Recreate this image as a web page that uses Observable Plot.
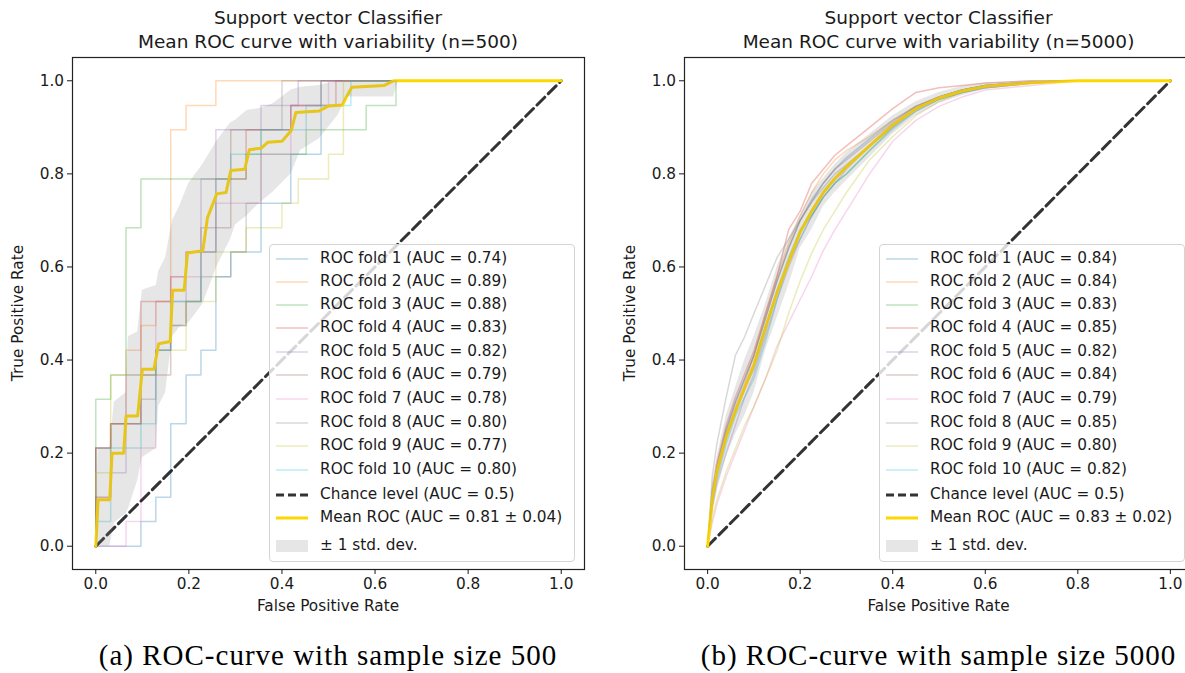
<!DOCTYPE html>
<html><head><meta charset="utf-8">
<script src="https://cdn.jsdelivr.net/npm/d3@7"></script>
<script src="https://cdn.jsdelivr.net/npm/@observablehq/plot@0.6"></script>
<style>
html,body{margin:0;padding:0;background:#fff;}
#root{position:relative;width:1185px;height:673px;overflow:hidden;background:#fff;font-family:"DejaVu Sans",sans-serif;color:#1a1a1a;}
#root > svg{position:absolute;top:0;}
.t{position:absolute;white-space:nowrap;transform:translate(-50%,-50%);line-height:1;}
.legend{position:absolute;border:1px solid #d4d4d4;border-radius:4px;background:rgba(255,255,255,0.8);box-sizing:border-box;}
.row{position:absolute;left:0;white-space:nowrap;font-size:15.3px;line-height:1;transform:translateY(-50%);display:flex;align-items:center;}
#root .row svg{position:static;display:block;}
.cap{font-family:"Liberation Serif",serif;font-size:29px;letter-spacing:1px;color:#000;}
</style></head><body><div id="root"></div><script>
// ---------- shared ----------
const foldNames = ["ROC fold 1","ROC fold 2","ROC fold 3","ROC fold 4","ROC fold 5","ROC fold 6","ROC fold 7","ROC fold 8","ROC fold 9","ROC fold 10"];
const tickValues = [0, 0.2, 0.4, 0.6, 0.8, 1.0];
const chanceFpr = [0, 1];
const chanceTpr = [0, 1];

// ---------- panel (a) n=500 : step ROC curves (fpr where step occurs, new tpr) ----------
const titleA = ["Support vector Classifier", "Mean ROC curve with variability (n=500)"];
const captionA = "(a) ROC-curve with sample size 500";
const aucA = [0.74, 0.89, 0.88, 0.83, 0.82, 0.79, 0.78, 0.80, 0.77, 0.80];
const meanAucA = "0.81 \u00b1 0.04";
const foldA1_fpr = [0, 0.097, 0.129, 0.161, 0.194, 0.226, 0.258, 0.290, 0.355, 0.419, 0.484, 1];
const foldA1_tpr = [0, 0.053, 0.105, 0.263, 0.368, 0.421, 0.579, 0.632, 0.737, 0.842, 1, 1];
const foldA2_fpr = [0, 0, 0.032, 0.065, 0.097, 0.129, 0.161, 0.194, 0.258, 1];
const foldA2_tpr = [0, 0.105, 0.263, 0.421, 0.474, 0.526, 0.895, 0.947, 1, 1];
const foldA3_fpr = [0, 0, 0.032, 0.065, 0.097, 0.323, 0.452, 0.581, 0.645, 1];
const foldA3_tpr = [0, 0.316, 0.368, 0.684, 0.789, 0.842, 0.895, 0.947, 1, 1];
const foldA4_fpr = [0, 0, 0.032, 0.097, 0.161, 0.194, 0.258, 0.323, 0.419, 0.516, 1];
const foldA4_tpr = [0, 0.211, 0.263, 0.526, 0.579, 0.632, 0.789, 0.895, 0.947, 1, 1];
const foldA5_fpr = [0, 0, 0.032, 0.065, 0.129, 0.161, 0.194, 0.226, 0.258, 0.355, 0.435, 1];
const foldA5_tpr = [0, 0.105, 0.158, 0.368, 0.421, 0.526, 0.632, 0.789, 0.895, 0.947, 1, 1];
const foldA6_fpr = [0, 0, 0.032, 0.097, 0.161, 0.194, 0.226, 0.290, 0.419, 0.484, 1];
const foldA6_tpr = [0, 0.211, 0.263, 0.368, 0.474, 0.526, 0.684, 0.895, 0.947, 1, 1];
const foldA7_fpr = [0, 0.065, 0.097, 0.129, 0.161, 0.226, 0.258, 0.355, 0.419, 0.5, 1];
const foldA7_tpr = [0, 0.053, 0.211, 0.526, 0.579, 0.632, 0.737, 0.842, 0.947, 1, 1];
const foldA8_fpr = [0, 0, 0.032, 0.097, 0.129, 0.161, 0.194, 0.226, 0.290, 0.323, 0.355, 0.40, 1];
const foldA8_tpr = [0, 0.211, 0.263, 0.316, 0.421, 0.474, 0.526, 0.579, 0.632, 0.737, 0.895, 1, 1];
const foldA9_fpr = [0, 0, 0.032, 0.129, 0.194, 0.258, 0.323, 0.40, 0.435, 0.5, 0.532, 1];
const foldA9_tpr = [0, 0.158, 0.368, 0.421, 0.526, 0.632, 0.684, 0.737, 0.789, 0.842, 1, 1];
const foldA10_fpr = [0, 0, 0.032, 0.097, 0.129, 0.161, 0.226, 0.258, 0.290, 0.355, 0.452, 0.548, 1];
const foldA10_tpr = [0, 0.053, 0.211, 0.263, 0.421, 0.526, 0.632, 0.789, 0.842, 0.895, 0.947, 1, 1];
const meanA_fpr = [0, 0.005, 0.03, 0.035, 0.06, 0.065, 0.09, 0.1, 0.125, 0.135, 0.16, 0.165, 0.19, 0.197, 0.23, 0.24, 0.26, 0.28, 0.29, 0.32, 0.33, 0.355, 0.37, 0.40, 0.42, 0.43, 0.48, 0.50, 0.53, 0.54, 0.55, 0.62, 0.64, 1];
const meanA_tpr = [0, 0.1, 0.1, 0.2, 0.2, 0.28, 0.28, 0.38, 0.38, 0.435, 0.44, 0.55, 0.55, 0.63, 0.635, 0.706, 0.757, 0.76, 0.807, 0.81, 0.852, 0.855, 0.868, 0.87, 0.893, 0.932, 0.935, 0.946, 0.948, 0.968, 0.986, 0.99, 1, 1];
const bandA_fpr = [0, 0.005, 0.03, 0.04, 0.065, 0.07, 0.09, 0.1, 0.13, 0.135, 0.15, 0.165, 0.18, 0.2, 0.23, 0.26, 0.29, 0.3, 0.325, 0.35, 0.38, 0.42, 0.44, 0.48, 0.52, 0.54, 0.64, 0.65, 1];
const bandA_hi = [0, 0.21, 0.21, 0.31, 0.33, 0.45, 0.46, 0.55, 0.56, 0.59, 0.62, 0.70, 0.73, 0.78, 0.82, 0.87, 0.91, 0.915, 0.936, 0.94, 0.95, 0.98, 0.986, 0.99, 1, 1, 1, 1, 1];
const bandA_lo = [0, 0, 0, 0.05, 0.07, 0.08, 0.14, 0.19, 0.21, 0.30, 0.33, 0.45, 0.47, 0.48, 0.52, 0.60, 0.66, 0.69, 0.71, 0.735, 0.76, 0.80, 0.85, 0.875, 0.925, 0.965, 0.965, 1, 1];

// ---------- panel (b) n=5000 : tpr read at a shared fpr grid ----------
const titleB = ["Support vector Classifier", "Mean ROC curve with variability (n=5000)"];
const captionB = "(b) ROC-curve with sample size 5000";
const aucB = [0.84, 0.84, 0.83, 0.85, 0.82, 0.84, 0.79, 0.85, 0.80, 0.82];
const meanAucB = "0.83 \u00b1 0.02";
const fprGridB = [0, 0.01, 0.02, 0.04, 0.06, 0.08, 0.1, 0.125, 0.15, 0.175, 0.2, 0.225, 0.25, 0.275, 0.3, 0.35, 0.4, 0.45, 0.5, 0.55, 0.6, 0.7, 0.8, 1];
const foldB1_tpr = [0, 0.11, 0.17, 0.25, 0.31, 0.36, 0.41, 0.49, 0.57, 0.64, 0.70, 0.745, 0.78, 0.81, 0.835, 0.875, 0.915, 0.945, 0.965, 0.98, 0.99, 0.997, 1, 1];
const foldB2_tpr = [0, 0.09, 0.15, 0.24, 0.30, 0.35, 0.41, 0.50, 0.58, 0.65, 0.71, 0.76, 0.80, 0.83, 0.85, 0.88, 0.915, 0.945, 0.965, 0.98, 0.99, 0.997, 1, 1];
const foldB3_tpr = [0, 0.10, 0.16, 0.24, 0.29, 0.34, 0.38, 0.46, 0.55, 0.62, 0.68, 0.71, 0.75, 0.78, 0.80, 0.85, 0.90, 0.94, 0.965, 0.98, 0.99, 0.996, 1, 1];
const foldB4_tpr = [0, 0.12, 0.18, 0.26, 0.32, 0.37, 0.42, 0.50, 0.58, 0.68, 0.72, 0.78, 0.81, 0.84, 0.86, 0.90, 0.94, 0.975, 0.985, 0.99, 0.995, 1, 1, 1];
const foldB5_tpr = [0, 0.08, 0.13, 0.20, 0.26, 0.32, 0.37, 0.45, 0.53, 0.60, 0.66, 0.71, 0.75, 0.78, 0.81, 0.86, 0.90, 0.935, 0.96, 0.975, 0.985, 0.995, 1, 1];
const foldB6_tpr = [0, 0.10, 0.17, 0.25, 0.31, 0.36, 0.41, 0.49, 0.57, 0.64, 0.70, 0.74, 0.78, 0.81, 0.83, 0.87, 0.91, 0.945, 0.965, 0.98, 0.99, 0.997, 1, 1];
const foldB7_tpr = [0, 0.05, 0.09, 0.15, 0.20, 0.25, 0.30, 0.36, 0.43, 0.48, 0.53, 0.58, 0.635, 0.68, 0.72, 0.80, 0.87, 0.915, 0.945, 0.965, 0.98, 0.99, 1, 1];
const foldB8_tpr = [0, 0.15, 0.22, 0.32, 0.41, 0.45, 0.50, 0.56, 0.62, 0.66, 0.70, 0.74, 0.77, 0.80, 0.82, 0.86, 0.905, 0.94, 0.96, 0.975, 0.985, 0.995, 1, 1];
const foldB9_tpr = [0, 0.06, 0.10, 0.16, 0.21, 0.26, 0.30, 0.36, 0.42, 0.50, 0.57, 0.63, 0.68, 0.72, 0.76, 0.83, 0.88, 0.925, 0.955, 0.975, 0.99, 0.998, 1, 1];
const foldB10_tpr = [0, 0.09, 0.14, 0.22, 0.28, 0.32, 0.36, 0.44, 0.53, 0.61, 0.66, 0.71, 0.75, 0.78, 0.80, 0.85, 0.895, 0.935, 0.96, 0.975, 0.985, 0.995, 1, 1];
const meanB_tpr = [0, 0.10, 0.16, 0.235, 0.29, 0.34, 0.39, 0.47, 0.545, 0.61, 0.675, 0.72, 0.76, 0.79, 0.815, 0.86, 0.905, 0.94, 0.963, 0.978, 0.988, 0.996, 1, 1];
const bandB_hi = [0, 0.13, 0.19, 0.28, 0.34, 0.40, 0.45, 0.52, 0.60, 0.66, 0.71, 0.76, 0.79, 0.82, 0.845, 0.885, 0.925, 0.955, 0.975, 0.988, 0.995, 1, 1, 1];
const bandB_lo = [0, 0.07, 0.13, 0.19, 0.24, 0.28, 0.33, 0.42, 0.49, 0.56, 0.64, 0.68, 0.73, 0.76, 0.785, 0.835, 0.885, 0.925, 0.951, 0.968, 0.981, 0.992, 1, 1];

// ---------- styles ----------
const palette = ["#1f77b4","#ff7f0e","#2ca02c","#d62728","#9467bd","#8c564b","#e377c2","#7f7f7f","#bcbd22","#17becf"];
const meanColor = "#ffd700";
const FS = 15.3;

const foldsA = [
  [foldA1_fpr, foldA1_tpr],[foldA2_fpr, foldA2_tpr],[foldA3_fpr, foldA3_tpr],[foldA4_fpr, foldA4_tpr],[foldA5_fpr, foldA5_tpr],
  [foldA6_fpr, foldA6_tpr],[foldA7_fpr, foldA7_tpr],[foldA8_fpr, foldA8_tpr],[foldA9_fpr, foldA9_tpr],[foldA10_fpr, foldA10_tpr]];
const foldsB = [foldB1_tpr,foldB2_tpr,foldB3_tpr,foldB4_tpr,foldB5_tpr,foldB6_tpr,foldB7_tpr,foldB8_tpr,foldB9_tpr,foldB10_tpr]
  .map(t => [fprGridB, t]);

const zip = (xs, ys) => xs.map((x, i) => ({x, y: ys[i]}));

function panel(o) {
  const marks = [];
  o.folds.forEach(([xs, ys], i) => {
    marks.push(Plot.line(zip(xs, ys), {x: "x", y: "y", stroke: palette[i], strokeOpacity: 0.3, strokeWidth: 1.5, curve: o.foldCurve}));
  });
  marks.push(Plot.line(zip(chanceFpr, chanceTpr), {x: "x", y: "y", stroke: "#000", strokeOpacity: 0.8, strokeWidth: 3, strokeDasharray: "11,5"}));
  marks.push(Plot.line(zip(o.meanX, o.meanY), {x: "x", y: "y", stroke: meanColor, strokeOpacity: 1, strokeWidth: 3}));
  marks.push(Plot.areaY(o.bandX.map((x, i) => ({x, lo: o.lo[i], hi: o.hi[i]})), {x: "x", y1: "lo", y2: "hi", fill: "#808080", fillOpacity: 0.2}));
  marks.push(Plot.frame({stroke: "#222", strokeWidth: 1.2}));
  marks.push(Plot.axisX({ticks: tickValues, tickFormat: d => d.toFixed(1), tickSize: 5, tickPadding: 3.5, label: null, fontSize: FS}));
  marks.push(Plot.axisY({ticks: tickValues, tickFormat: d => d.toFixed(1), tickSize: 5, tickPadding: 3.5, label: null, fontSize: FS}));
  const svg = Plot.plot({
    width: 600, height: 620,
    marginLeft: o.ml, marginRight: o.mr, marginTop: 57, marginBottom: 51,
    x: {domain: [-0.05, 1.05]}, y: {domain: [-0.05, 1.05]},
    style: {fontFamily: "DejaVu Sans", fontSize: FS + "px", color: "#1a1a1a", background: "transparent", overflow: "visible"},
    marks
  });
  svg.style.left = o.left + "px";
  return svg;
}

const root = document.getElementById("root");
root.appendChild(panel({folds: foldsA, foldCurve: "step-after", meanX: meanA_fpr, meanY: meanA_tpr, bandX: bandA_fpr, lo: bandA_lo, hi: bandA_hi, ml: 72, mr: 16, left: 0}));
root.appendChild(panel({folds: foldsB, foldCurve: "linear", meanX: fprGridB, meanY: meanB_tpr, bandX: fprGridB, lo: bandB_lo, hi: bandB_hi, ml: 84, mr: 7, left: 600}));

function text(str, cx, cy, size, cls, rot) {
  const d = document.createElement("div");
  d.className = "t" + (cls ? " " + cls : "");
  d.textContent = str;
  d.style.left = cx + "px"; d.style.top = cy + "px";
  if (size) d.style.fontSize = size + "px";
  if (rot) d.style.transform = "translate(-50%,-50%) rotate(-90deg)";
  root.appendChild(d);
}

function legend(left, top, aucs, meanTxt) {
  const lg = document.createElement("div");
  lg.className = "legend";
  lg.style.left = left + "px"; lg.style.top = top + "px";
  lg.style.width = "306px"; lg.style.height = "318px";
  const rowsY = [14, 36.5, 59.5, 83, 106.5, 130, 154, 177.5, 201, 224.5, 249.5, 273, 301];
  const entries = aucs.map((a, i) => ({label: `${foldNames[i]} (AUC = ${a.toFixed(2)})`, kind: "fold", i}));
  entries.push({label: "Chance level (AUC = 0.5)", kind: "chance"});
  entries.push({label: `Mean ROC (AUC = ${meanTxt})`, kind: "mean"});
  entries.push({label: "\u00b1 1 std. dev.", kind: "band"});
  entries.forEach((e, k) => {
    const r = document.createElement("div");
    r.className = "row";
    r.style.top = rowsY[k] + "px";
    let g;
    if (e.kind === "fold") g = `<line x1="6" x2="38" y1="9" y2="9" stroke="${palette[e.i]}" stroke-opacity="0.3" stroke-width="1.5"/>`;
    else if (e.kind === "chance") g = `<line x1="6" x2="38" y1="9" y2="9" stroke="#000" stroke-opacity="0.8" stroke-width="3" stroke-dasharray="8,4"/>`;
    else if (e.kind === "mean") g = `<line x1="6" x2="38" y1="9" y2="9" stroke="${meanColor}" stroke-opacity="1" stroke-width="3"/>`;
    else g = `<rect x="6" y="3" width="32" height="12" fill="#808080" fill-opacity="0.2"/>`;
    r.innerHTML = `<svg width="50" height="18">${g}</svg><span>${e.label}</span>`;
    lg.appendChild(r);
  });
  root.appendChild(lg);
}

// titles, labels, captions
text(titleA[0], 328, 18, 18.5); text(titleA[1], 328, 42, 18.5);
text(titleB[0], 938.5, 18, 18.5); text(titleB[1], 938.5, 42, 18.5);
text("False Positive Rate", 328, 607, FS); text("False Positive Rate", 938.5, 607, FS);
text("True Positive Rate", 19, 313, FS, null, true); text("True Positive Rate", 631, 313, FS, null, true);
text(captionA, 328, 655, null, "cap"); text(captionB, 938.5, 655, null, "cap");
legend(269, 244, aucA, meanAucA);
legend(879, 244, aucB, meanAucB);
</script></body></html>
